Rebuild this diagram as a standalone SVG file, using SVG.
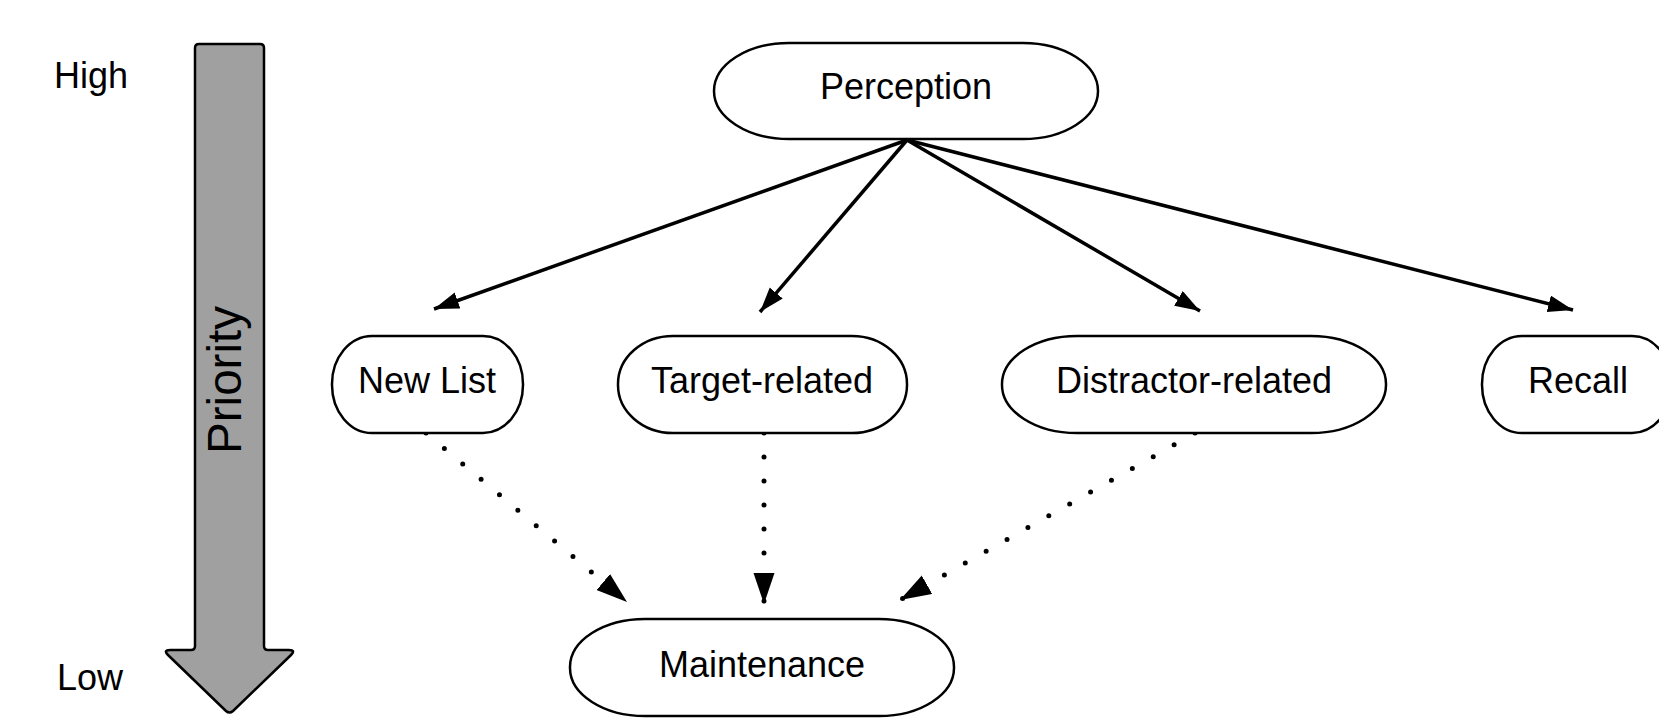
<svg xmlns="http://www.w3.org/2000/svg" width="1659" height="719" viewBox="0 0 1659 719">
<defs>
<style>
.node{fill:#ffffff;stroke:#000000;stroke-width:2.5}
.lbl{font-family:"Liberation Sans",Arial,sans-serif;font-size:36px;fill:#000000;text-anchor:middle}
.side{font-family:"Liberation Sans",Arial,sans-serif;font-size:36px;fill:#000000}
.solid{stroke:#000000;stroke-width:3.5;fill:none}
.dot{stroke:#000000;stroke-width:5;fill:none;stroke-linecap:round;stroke-dasharray:0 24}
</style>
<marker id="hs" markerUnits="userSpaceOnUse" markerWidth="28" markerHeight="20" refX="25" refY="8.5" orient="auto">
<path d="M0,0 L25,8.5 L0,17 Z" fill="#000000"/>
</marker>
<marker id="hd" markerUnits="userSpaceOnUse" markerWidth="34" markerHeight="24" refX="31" refY="10.5" orient="auto">
<path d="M0,0 L31,10.5 L0,21 Z" fill="#000000"/>
</marker>
</defs>
<rect x="0" y="0" width="1659" height="719" fill="#ffffff"/>
<g id="priority-scale">
<text class="side" x="54" y="88">High</text>
<text class="side" x="57" y="690">Low</text>
<path d="M195,48 Q195,44 199,44 L260,44 Q264,44 264,48 L264,646 Q264,650 268,650 L289,650 Q296,650 291,655 L233,711 Q229.5,714 226,711 L168,655 Q163,650 170,650 L191,650 Q195,650 195,646 Z" fill="#a0a0a0" stroke="#000000" stroke-width="2.5" stroke-linejoin="round"/>
<text x="241" y="380" transform="rotate(-90 241 380)" font-family="'Liberation Sans',Arial,sans-serif" font-size="47.5" text-anchor="middle" fill="#000000">Priority</text>
</g>
<g id="connectors">
<line class="solid" x1="907" y1="140" x2="434" y2="309" marker-end="url(#hs)"/>
<line class="solid" x1="907" y1="140" x2="760" y2="312" marker-end="url(#hs)"/>
<line class="solid" x1="907" y1="140" x2="1200" y2="311" marker-end="url(#hs)"/>
<line class="solid" x1="907" y1="140" x2="1573" y2="310" marker-end="url(#hs)"/>
<line class="dot" x1="426" y1="433" x2="627" y2="602" marker-end="url(#hd)"/>
<line class="dot" x1="764" y1="433" x2="764" y2="604" marker-end="url(#hd)"/>
<line class="dot" x1="1195" y1="433" x2="900" y2="600" marker-end="url(#hd)"/>
</g>
<g id="perception">
<rect class="node" x="714" y="43" width="384" height="96" rx="75" ry="48"/>
<text class="lbl" x="906" y="99">Perception</text>
</g>
<g id="new-list">
<rect class="node" x="332" y="336" width="191" height="97" rx="40" ry="48"/>
<text class="lbl" x="427" y="393">New List</text>
</g>
<g id="target-related">
<rect class="node" x="618" y="336" width="289" height="97" rx="55" ry="48"/>
<text class="lbl" x="762" y="393">Target-related</text>
</g>
<g id="distractor-related">
<rect class="node" x="1002" y="336" width="384" height="97" rx="75" ry="48"/>
<text class="lbl" x="1194" y="393">Distractor-related</text>
</g>
<g id="recall">
<rect class="node" x="1482" y="336" width="190" height="97" rx="40" ry="48"/>
<text class="lbl" x="1578" y="393">Recall</text>
</g>
<g id="maintenance">
<rect class="node" x="570" y="619" width="384" height="97" rx="75" ry="48"/>
<text class="lbl" x="762" y="677">Maintenance</text>
</g>
</svg>
